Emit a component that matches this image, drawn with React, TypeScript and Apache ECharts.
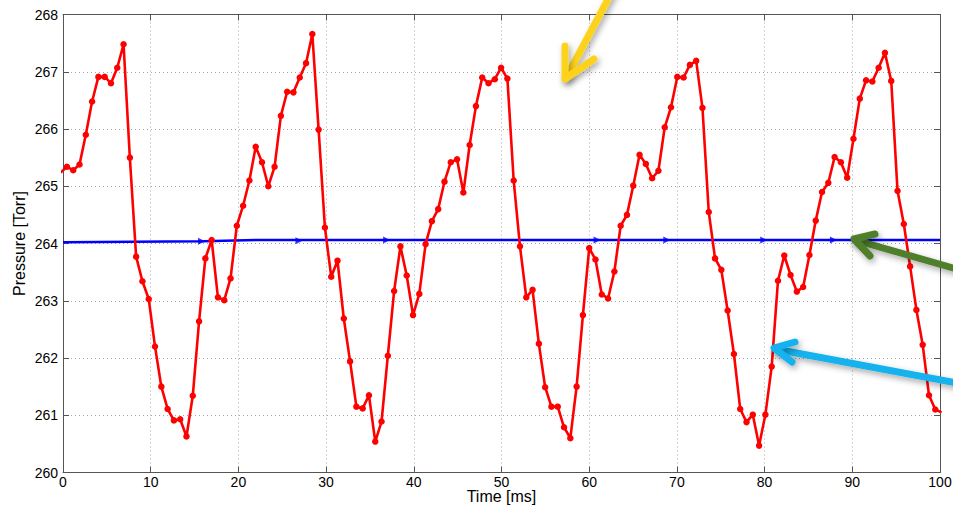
import React, { useEffect, useRef } from "react";
import * as echarts from "echarts";

const sampleTimes = [
  -0.27, 0.4475, 1.165, 1.8825, 2.6, 3.3175, 4.035, 4.7525, 5.47, 6.1875,
  6.905, 7.6225, 8.34, 9.0575, 9.775, 10.4925, 11.21, 11.9275, 12.645, 13.3625,
  14.08, 14.7975, 15.515, 16.2325, 16.95, 17.6675, 18.385, 19.1025, 19.82, 20.5375,
  21.255, 21.9725, 22.69, 23.4075, 24.125, 24.8425, 25.56, 26.2775, 26.995, 27.7125,
  28.43, 29.1475, 29.865, 30.5825, 31.3, 32.0175, 32.735, 33.4525, 34.17, 34.8875,
  35.605, 36.3225, 37.04, 37.7575, 38.475, 39.1925, 39.91, 40.6275, 41.345, 42.0625,
  42.78, 43.4975, 44.215, 44.9325, 45.65, 46.3675, 47.085, 47.8025, 48.52, 49.2375,
  49.955, 50.6725, 51.39, 52.1075, 52.825, 53.5425, 54.26, 54.9775, 55.695, 56.4125,
  57.13, 57.8475, 58.565, 59.2825, 60.0, 60.7175, 61.435, 62.1525, 62.87, 63.5875,
  64.305, 65.0225, 65.74, 66.4575, 67.175, 67.8925, 68.61, 69.3275, 70.045, 70.7625,
  71.48, 72.1975, 72.915, 73.6325, 74.35, 75.0675, 75.785, 76.5025, 77.22, 77.9375,
  78.655, 79.3725, 80.09, 80.8075, 81.525, 82.2425, 82.96, 83.6775, 84.395, 85.1125,
  85.83, 86.5475, 87.265, 87.9825, 88.7, 89.4175, 90.135, 90.8525, 91.57, 92.2875,
  93.005, 93.7225, 94.44, 95.1575, 95.875, 96.5925, 97.31, 98.0275, 98.745, 99.4625,
  100.18,
];

const pressureValues = [
  265.24, 265.34, 265.28, 265.38, 265.9, 266.48, 266.91, 266.91, 266.8, 267.07,
  267.48, 265.5, 263.77, 263.34, 263.03, 262.2, 261.5, 261.11, 260.91, 260.93,
  260.63, 261.34, 262.64, 263.74, 264.06, 263.06, 263.01, 263.39, 264.31, 264.66,
  265.1, 265.69, 265.42, 265.0, 265.34, 266.23, 266.65, 266.64, 266.9, 267.15,
  267.66, 265.99, 264.28, 263.42, 263.7, 262.69, 261.94, 261.15, 261.12, 261.35,
  260.54, 260.89, 262.04, 263.17, 263.95, 263.44, 262.75, 263.12, 263.99, 264.39,
  264.6, 265.08, 265.42, 265.47, 264.89, 265.72, 266.4, 266.9, 266.8, 266.87,
  267.07, 266.88, 265.1, 263.95, 263.06, 263.19, 262.25, 261.49, 261.15, 261.15,
  260.79, 260.6, 261.5, 262.75, 263.92, 263.72, 263.11, 263.04, 263.51, 264.31,
  264.5, 265.01, 265.55, 265.39, 265.14, 265.27, 266.03, 266.38, 266.91, 266.9,
  267.12, 267.19, 266.37, 264.55, 263.74, 263.54, 262.83, 262.07, 261.11, 260.88,
  261.01, 260.47, 261.01, 261.85, 263.35, 263.79, 263.45, 263.16, 263.24, 263.8,
  264.4, 264.9, 265.06, 265.51, 265.42, 265.15, 265.83, 266.53, 266.85, 266.83,
  267.07, 267.33, 266.84, 264.92, 264.34, 263.6, 262.84, 262.23, 261.35, 261.1,
  261.05,
];

const meanTimes = [0, 16, 22, 100];
const meanValues = [264.02, 264.04, 264.06, 264.06];

const arrowTimes = [15.8, 26.9, 36.9, 60.9, 68.85, 79.9, 87.85];
const arrowValues = [264.04, 264.05, 264.06, 264.06, 264.06, 264.06, 264.06];

const xTicks = [0, 10, 20, 30, 40, 50, 60, 70, 80, 90, 100];
const yTicks = [260, 261, 262, 263, 264, 265, 266, 267, 268];

const FONT = "Arial, 'Liberation Sans', Helvetica, sans-serif";

function arrow(color: string, shaft: number[][], head: number[][]) {
  const shadow = {
    shadowBlur: 6,
    shadowColor: "rgba(0,0,0,0.35)",
    shadowOffsetX: 2,
    shadowOffsetY: 3,
  };
  return [
    {
      type: "polyline",
      z: 100,
      silent: true,
      shape: { points: shaft },
      style: { stroke: color, lineWidth: 7, lineCap: "round", fill: null, ...shadow },
    },
    {
      type: "polyline",
      z: 100,
      silent: true,
      shape: { points: head },
      style: {
        stroke: color,
        lineWidth: 7,
        lineCap: "round",
        lineJoin: "round",
        fill: null,
        ...shadow,
      },
    },
  ];
}

export default function App() {
  const ref = useRef<HTMLDivElement>(null);

  useEffect(() => {
    if (!ref.current) return;
    const chart = echarts.init(ref.current, undefined, { renderer: "svg", width: 953, height: 507 });

    const redData = sampleTimes.map((t, i) => [t, pressureValues[i]]);
    const blueData = meanTimes.map((t, i) => [t, meanValues[i]]);
    const markerData = arrowTimes.map((t, i) => [t, arrowValues[i]]);

    const axisLineStyle = { color: "#555", width: 1 };
    const gridLine = { show: true, lineStyle: { color: "#a8a8a8", type: [1, 3], width: 1 } };

    chart.setOption({
      animation: false,
      backgroundColor: "#fff",
      grid: {
        left: 63,
        right: 13,
        top: 14.5,
        bottom: 34.5,
        containLabel: false,
        outerBoundsMode: "none",
      },
      xAxis: [
        {
          type: "value",
          min: 0,
          max: 100,
          interval: 10,
          name: "Time [ms]",
          nameLocation: "middle",
          nameGap: 16,
          nameMoveOverlap: false,
          nameTextStyle: { fontFamily: FONT, fontSize: 16, lineHeight: 16, color: "#000" },
          axisLine: { show: true, onZero: false, lineStyle: axisLineStyle },
          axisTick: { show: true, inside: true, length: 6, lineStyle: axisLineStyle },
          axisLabel: {
            fontFamily: FONT,
            fontSize: 14,
            lineHeight: 14,
            color: "#000",
            margin: 2,
            formatter: (v: number) => (xTicks.includes(v) ? String(v) : ""),
          },
          splitLine: gridLine,
        },
        {
          type: "value",
          position: "top",
          min: 0,
          max: 100,
          interval: 10,
          axisLine: { show: true, onZero: false, lineStyle: axisLineStyle },
          axisTick: { show: true, inside: true, length: 6, lineStyle: axisLineStyle },
          axisLabel: { show: false },
          splitLine: { show: false },
        },
      ],
      yAxis: [
        {
          type: "value",
          min: 260,
          max: 268,
          interval: 1,
          name: "Pressure [Torr]",
          nameLocation: "middle",
          nameGap: 36,
          nameMoveOverlap: false,
          nameTextStyle: { fontFamily: FONT, fontSize: 16, color: "#000" },
          axisLine: { show: true, onZero: false, lineStyle: axisLineStyle },
          axisTick: { show: true, inside: true, length: 6, lineStyle: axisLineStyle },
          axisLabel: {
            fontFamily: FONT,
            fontSize: 14,
            color: "#000",
            margin: 5,
            formatter: (v: number) => (yTicks.includes(v) ? String(v) : ""),
          },
          splitLine: gridLine,
        },
        {
          type: "value",
          position: "right",
          min: 260,
          max: 268,
          interval: 1,
          axisLine: { show: true, onZero: false, lineStyle: axisLineStyle },
          axisTick: { show: true, inside: true, length: 6, lineStyle: axisLineStyle },
          axisLabel: { show: false },
          splitLine: { show: false },
        },
      ],
      series: [
        {
          type: "line",
          name: "mean",
          data: blueData,
          xAxisIndex: 0,
          yAxisIndex: 0,
          symbol: "none",
          lineStyle: { color: "#0000ff", width: 2.5 },
          z: 2,
        },
        {
          type: "scatter",
          name: "flow",
          data: markerData,
          xAxisIndex: 0,
          yAxisIndex: 0,
          symbol: "triangle",
          symbolSize: [7, 7],
          symbolRotate: -90,
          itemStyle: { color: "#0000ff" },
          z: 3,
        },
        {
          type: "line",
          name: "pressure",
          data: redData,
          xAxisIndex: 0,
          yAxisIndex: 0,
          clip: true,
          symbol: "circle",
          symbolSize: 6.5,
          showSymbol: true,
          lineStyle: { color: "#ff0000", width: 2.6 },
          itemStyle: { color: "#ff0000" },
          z: 4,
        },
      ],
      graphic: [
        ...arrow("#FDD21C", [[614, -12], [566, 78]], [[565, 46], [565, 79], [594, 59]]),
        ...arrow("#4F7F2B", [[960, 270], [855, 240]], [[875, 234], [854, 239], [870, 256]]),
        ...arrow("#12B2EE", [[962, 384], [775, 349]], [[795, 342], [774, 348], [792, 362]]),
      ],
    });

    return () => chart.dispose();
  }, []);

  return (
    <div
      ref={ref}
      style={{ position: "absolute", left: 0, top: 0, width: 953, height: 507 }}
    />
  );
}
